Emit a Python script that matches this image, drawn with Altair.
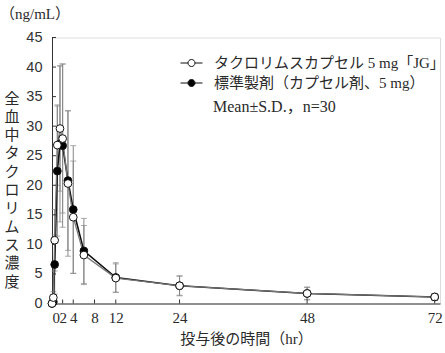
import altair as alt
import pandas as pd

times = [0, 0.25, 0.5, 1, 1.5, 2, 3, 4, 6, 12, 24, 48, 72]
test_mean = [0, 1.0, 10.7, 26.8, 29.6, 27.9, 20.3, 14.6, 8.2, 4.3, 3.0, 1.7, 1.1]
test_sd = [0, 1.0, 5.2, 6.8, 10.6, 12.6, 12.3, 9.5, 5.0, 2.4, 1.6, 1.0, 0.6]
ref_mean = [0, 0.3, 6.6, 22.4, 27.0, 26.7, 20.8, 15.9, 8.9, 4.4, 3.0, 1.7, 1.1]
ref_sd = [0, 0.6, 5.0, 11.0, 13.2, 13.8, 11.8, 10.8, 5.5, 2.5, 1.7, 1.1, 0.6]

series_names = ["タクロリムスカプセル 5 mg「JG」", "標準製剤（カプセル剤、5 mg）"]
x_ticks = [0, 2, 4, 8, 12, 24, 48, 72]
y_ticks = [0, 5, 10, 15, 20, 25, 30, 35, 40, 45]
y_title = "全血中タクロリムス濃度"

FONT = "Liberation Serif, Noto Sans CJK JP"
SANS = "Liberation Sans, Noto Sans CJK JP"
W, H = 388, 266

rows = []
for k, (name, means, sds) in enumerate([(series_names[0], test_mean, test_sd), (series_names[1], ref_mean, ref_sd)]):
    for t, m, s in zip(times, means, sds):
        rows.append({"series": name, "z": 1 - k, "t": t, "mean": m, "lo": max(m - s, 0), "hi": m + s})
df = pd.DataFrame(rows)
df_test = df[df.series == series_names[0]]
df_ref = df[df.series == series_names[1]]

xs = alt.Scale(domain=[0, 73], nice=False)
ys = alt.Scale(domain=[0, 45], nice=False)

x_axis = alt.Axis(values=x_ticks, ticks=False, grid=False, labelOverlap=False,
                  labelFontSize=15, labelFont=FONT, labelPadding=7,
                  labelColor="#2a2a2a", domainColor="#333",
                  title="投与後の時間（hr）", titleFont=FONT,
                  titleFontSize=15, titleFontWeight="normal",
                  titleColor="#2a2a2a", titlePadding=6)
y_axis = alt.Axis(values=y_ticks, ticks=False, grid=False, labelOverlap=False,
                  labelFontSize=14.5, labelFont=SANS, labelPadding=10,
                  labelColor="#333", domainColor="#333", title=None)


def X(f):
    return alt.X(f, scale=xs, axis=x_axis, title="投与後の時間（hr）")


def Y(f):
    return alt.Y(f, scale=ys, axis=y_axis, title=None)


base = alt.Chart(df)

err = base.mark_rule(color="#888", strokeWidth=1).encode(
    x=X("t:Q"), y=Y("lo:Q"), y2="hi:Q")
cap_hi = base.mark_tick(color="#888", orient="horizontal", size=6, thickness=1).encode(
    x=X("t:Q"), y=Y("hi:Q"))
cap_lo = base.mark_tick(color="#888", orient="horizontal", size=6, thickness=1).encode(
    x=X("t:Q"), y=Y("lo:Q"))

line_ref = alt.Chart(df_ref).mark_line(color="#111", strokeWidth=1.6).encode(x=X("t:Q"), y=Y("mean:Q"))
line_test = alt.Chart(df_test).mark_line(color="#777", strokeWidth=1.2).encode(x=X("t:Q"), y=Y("mean:Q"))

sym = "M-1,0H-0.32M0.32,0H1M-0.32,0A0.32,0.32,0,1,1,0.32,0A0.32,0.32,0,1,1,-0.32,0Z"

pts = base.mark_point(shape="circle", filled=True, stroke="#111", strokeWidth=1, size=60, opacity=1).encode(
    x=X("t:Q"),
    y=Y("mean:Q"),
    fill=alt.Fill("series:N", scale=alt.Scale(domain=series_names, range=["white", "black"]),
                  legend=alt.Legend(title=None, orient="none", legendX=128, legendY=14,
                                    symbolType=sym, symbolSize=484, symbolStrokeColor="#111",
                                    symbolStrokeWidth=1, labelFont=FONT, labelFontSize=15,
                                    labelColor="#2a2a2a", labelOffset=11, rowPadding=0,
                                    padding=0, labelLimit=400)),
    order=alt.Order("z:Q", sort="ascending"),
)

ytick_df = pd.DataFrame({"v": y_ticks[1:]})
xtick_df = pd.DataFrame({"v": x_ticks[1:]})
yt = alt.Chart(ytick_df).mark_rule(color="#333", strokeWidth=1).encode(
    y=Y("v:Q"), x=alt.value(0), x2=alt.value(4))
xt = alt.Chart(xtick_df).mark_rule(color="#333", strokeWidth=1).encode(
    x=X("v:Q"), y=alt.value(H), y2=alt.value(H - 4))

note = alt.Chart(pd.DataFrame({"s": ["Mean±S.D.，n=30"]})).mark_text(
    font=FONT, fontSize=16, align="left", baseline="middle", color="#2a2a2a").encode(
    text="s:N", x=alt.value(161), y=alt.value(69))

unit = alt.Chart(pd.DataFrame({"s": ["（ng/mL）"]})).mark_text(
    font=FONT, fontSize=15, align="left", baseline="middle", color="#2a2a2a").encode(
    text="s:N", x=alt.value(-52), y=alt.value(-24))

ytitle = alt.Chart(pd.DataFrame({"s": ["\n".join(y_title)]})).mark_text(
    font=FONT, fontSize=15, align="center", baseline="top", lineBreak="\n", lineHeight=18.3,
    color="#2a2a2a").encode(
    text="s:N", x=alt.value(-40), y=alt.value(54))

chart = alt.layer(err, cap_hi, cap_lo, line_ref, line_test, pts, yt, xt, note, unit, ytitle).properties(
    width=W, height=H,
    padding={"left": 52, "top": 37.5, "right": 5, "bottom": 49.5},
    autosize=alt.AutoSizeParams(type="none"),
).configure_view(stroke=None).configure(background="white")

chart.save("out.html", embed_options={"renderer": "svg", "actions": False})
